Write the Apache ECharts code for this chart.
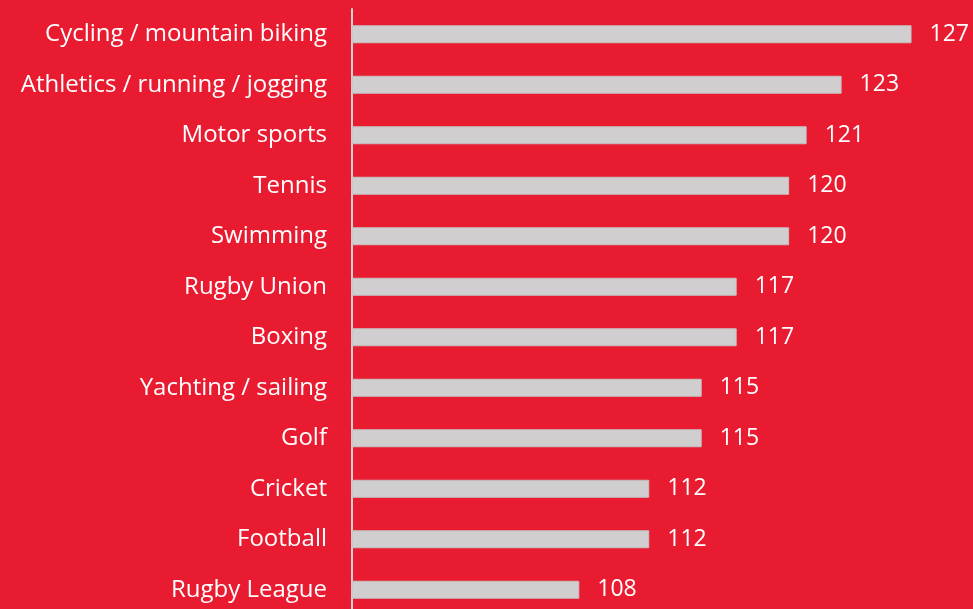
<!DOCTYPE html>
<html>
<head>
<meta charset="utf-8">
<script src="https://cdn.jsdelivr.net/npm/echarts@6/dist/echarts.min.js"></script>
<style>
  html, body { margin: 0; padding: 0; background: #e91b30; }
  #chart { width: 973px; height: 609px; }
</style>
</head>
<body>
<div id="chart"></div>
<script>
const sports = ['Cycling / mountain biking', 'Athletics / running / jogging', 'Motor sports', 'Tennis',
  'Swimming', 'Rugby Union', 'Boxing', 'Yachting / sailing', 'Golf', 'Cricket', 'Football', 'Rugby League'];
const indexValues = [127, 123, 121, 120, 120, 117, 117, 115, 115, 112, 112, 108];

const chart = echarts.init(document.getElementById('chart'));
const font = 'Open Sans';

const option = {
  backgroundColor: '#e91b30',
  animation: false,
  grid: {
    left: 352,
    top: 9,
    width: 612,
    height: 606,
    outerBoundsMode: 'none',
  },
  xAxis: {
    type: 'value',
    min: 95,
    max: 130,
    show: false,
    splitLine: { show: false },
  },
  yAxis: {
    type: 'category',
    data: sports,
    inverse: true,
    axisLine: { show: true, lineStyle: { color: '#d6d3d4', width: 2 } },
    axisTick: { show: false },
    axisLabel: {
      color: '#ffffff',
      fontFamily: font,
      fontSize: 24,
      margin: 25,
    },
  },
  series: [
    {
      type: 'bar',
      data: indexValues,
      barWidth: 18,
      itemStyle: { color: '#d0cecf', borderColor: '#c4c0c1', borderWidth: 1 },
      label: {
        show: true,
        position: 'right',
        distance: 18,
        color: '#ffffff',
        fontFamily: font,
        fontSize: 23,
      },
    },
  ],
};
chart.setOption(option);
</script>
</body>
</html>
